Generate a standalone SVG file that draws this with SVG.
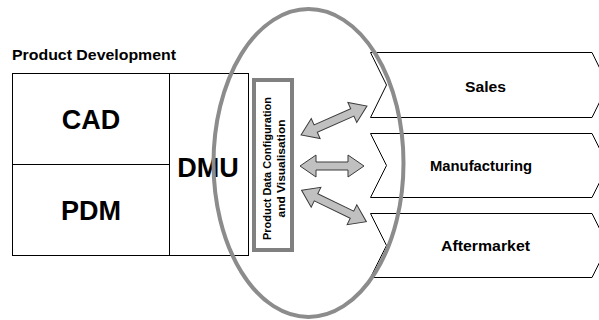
<svg xmlns="http://www.w3.org/2000/svg" width="599" height="320" viewBox="0 0 599 320">
<defs>
<style>
text{font-family:"Liberation Sans",Arial,sans-serif;font-weight:bold;fill:#000}
.box{fill:#fff;stroke:#000;stroke-width:1}
.chev{fill:#fff;stroke:#000;stroke-width:1}
.arr{fill:#c0c0c0;stroke:#3a3a3a;stroke-width:1;stroke-linejoin:miter}
.big{font-size:27px;text-anchor:middle}
.lbl{font-size:15px;text-anchor:middle}
.rot{font-size:11px;text-anchor:middle}
</style>
<path id="a72" d="M-36,0 L-20,-11 L-20,-4 L20,-4 L20,-11 L36,0 L20,11 L20,4 L-20,4 L-20,11 Z"/>
</defs>
<rect width="599" height="320" fill="#fff"/>
<text x="12" y="60" style="font-size:15px" textLength="164" lengthAdjust="spacingAndGlyphs">Product Development</text>
<g id="productDevelopment">
<rect class="box" x="12.5" y="73.5" width="236" height="182"/>
</g>
<g id="cad">
<rect class="box" x="12.5" y="73.5" width="157" height="91"/>
<text class="big" x="91" y="129">CAD</text>
</g>
<g id="pdm">
<rect class="box" x="12.5" y="164.5" width="157" height="91"/>
<text class="big" x="91" y="220">PDM</text>
</g>
<g id="dmu">
<rect class="box" x="169.5" y="73.5" width="79" height="182"/>
<text class="big" x="208" y="177">DMU</text>
</g>
<g id="pdcv">
<rect x="254" y="80" width="38" height="170" fill="#fff" stroke="#808080" stroke-width="4"/>
<g transform="translate(272,168.5) rotate(-90)">
<text class="rot" x="0" y="-1" textLength="143" lengthAdjust="spacingAndGlyphs">Product Data Configuration</text>
<text class="rot" x="0" y="13" textLength="98" lengthAdjust="spacingAndGlyphs">and Visualisation</text>
</g>
</g>
<g id="sales">
<path class="chev" d="M370.5,52.5 L592,52.5 L608,85 L592,117.5 L370.5,117.5 L386.5,85 Z"/>
<text class="lbl" x="485.5" y="91.5" textLength="41" lengthAdjust="spacingAndGlyphs">Sales</text>
</g>
<g id="manufacturing">
<path class="chev" d="M370.5,133.5 L592,133.5 L608,165.5 L592,197.5 L370.5,197.5 L386.5,165.5 Z"/>
<text class="lbl" x="481" y="170.5" textLength="102" lengthAdjust="spacingAndGlyphs">Manufacturing</text>
</g>
<g id="aftermarket">
<path class="chev" d="M370.5,213.5 L592,213.5 L608,245.5 L592,277.5 L370.5,277.5 L386.5,245.5 Z"/>
<text class="lbl" x="485.5" y="251" textLength="89" lengthAdjust="spacingAndGlyphs">Aftermarket</text>
</g>
<g id="connectors">
<use href="#a72" class="arr" transform="translate(334,120.5) rotate(-23.7)"/>
<path class="arr" d="M300,166 L316,155 L316,162 L348,162 L348,155 L364,166 L348,177 L348,170 L316,170 L316,177 Z"/>
<use href="#a72" class="arr" transform="translate(334,206) rotate(25.9)"/>
</g>
<g id="scope">
<ellipse cx="308.5" cy="163" rx="95" ry="154" fill="none" stroke="#8c8c8c" stroke-width="4"/>
</g>
</svg>
